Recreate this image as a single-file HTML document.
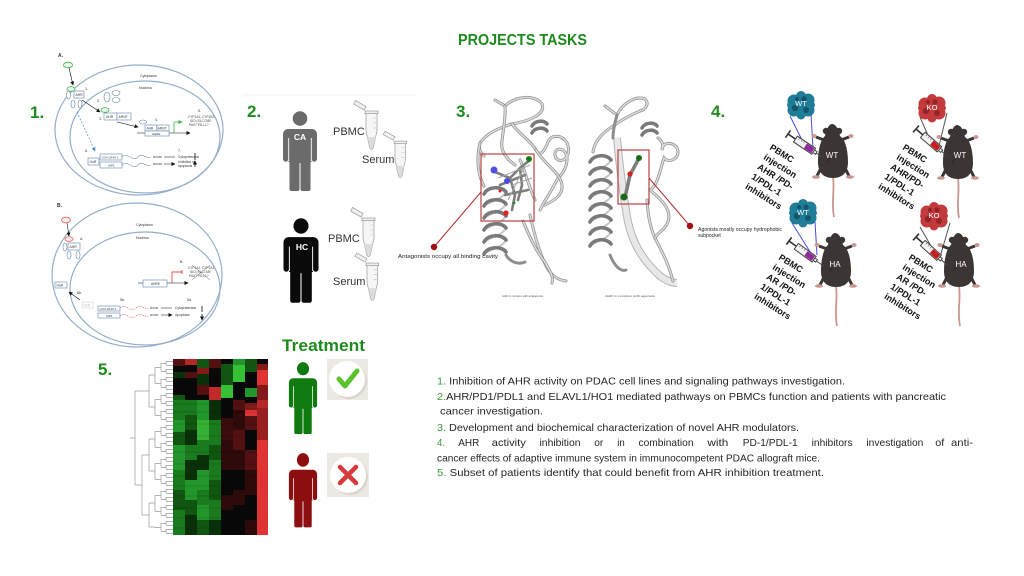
<!DOCTYPE html>
<html><head><meta charset="utf-8"><style>
html,body{margin:0;padding:0;background:#fff;}
svg{display:block;font-family:"Liberation Sans",sans-serif;}
.rb{fill:none;stroke:#8e8e8e;stroke-width:3;stroke-linecap:round}
.ri{fill:none;stroke:#dadada;stroke-width:1.6;stroke-linecap:round}
.hf{fill:none;stroke:#7a7a7a;stroke-width:3.6;stroke-linecap:round}
.hb{fill:none;stroke:#c8c8c8;stroke-width:2;stroke-linecap:round}
.bx{fill:#fff;stroke:#5f84ad;stroke-width:0.6}
.t{font-size:3.6px;fill:#333}
</style></head><body>
<svg width="1024" height="576" viewBox="0 0 1024 576" xmlns="http://www.w3.org/2000/svg">
<defs>
<marker id="ah" markerUnits="userSpaceOnUse" markerWidth="4" markerHeight="4" refX="3.5" refY="2" orient="auto"><path d="M0,0 L4,2 L0,4 Z" fill="#111"/></marker>
<marker id="ahg" markerUnits="userSpaceOnUse" markerWidth="4" markerHeight="4" refX="3.5" refY="2" orient="auto"><path d="M0,0 L4,2 L0,4 Z" fill="#3cb04c"/></marker>
<marker id="ahb" markerUnits="userSpaceOnUse" markerWidth="4" markerHeight="4" refX="3.5" refY="2" orient="auto"><path d="M0,0 L4,2 L0,4 Z" fill="#4a90d9"/></marker>
<g id="person">
<circle cx="0" cy="7.5" r="7.3"/>
<path d="M-12,18 H12 A5,5 0 0 1 17,23 V48 A2.7,2.7 0 0 1 11.6,48 V51 H10.5 V78 A2,2 0 0 1 8.5,80 H2.5 A2,2 0 0 1 0.5,78 V52 H-0.5 V78 A2,2 0 0 1 -2.5,80 H-8.5 A2,2 0 0 1 -10.5,78 V51 H-11.6 V48 A2.7,2.7 0 0 1 -17,48 V23 A5,5 0 0 1 -12,18 Z"/>
<path d="M-11.3,27 V50 M11.3,27 V50" stroke="#fff" stroke-width="0.9" fill="none"/>
</g>
<g id="tube">
<path d="M0,0 H11 V18 L7.2,35 Q5.5,38 3.8,35 L0,18 Z" fill="#f6f6f6" stroke="#a6a6a6" stroke-width="0.8"/>
<path d="M1.2,24 H9.8 L7,34 Q5.5,36.5 4,34 Z" fill="#dcdcdc"/>
<rect x="-1" y="-2" width="13" height="2.6" fill="#eee" stroke="#999" stroke-width="0.7"/>
<path d="M7,5 H10 M7,10 H10 M7,15 H10" stroke="#bbb" stroke-width="0.6"/>
<rect x="-14" y="-7" width="12" height="4" fill="#f0f0f0" stroke="#999" stroke-width="0.7" transform="rotate(30 -2 -3)"/>
</g>
<g id="mouse">
<path d="M1,53 C3,66 -1,78 2,93" stroke="#c99690" stroke-width="1.8" fill="none"/>
<path d="M-11,44 L-15,52 M13,44 L17,52" stroke="#3b3533" stroke-width="3"/>
<ellipse cx="-16" cy="53" rx="4" ry="1.8" fill="#c99690"/>
<ellipse cx="18" cy="53" rx="4" ry="1.8" fill="#c99690"/>
<path d="M-8,16 L-16,13 M9,16 L17,13" stroke="#3b3533" stroke-width="3"/>
<ellipse cx="-18" cy="12" rx="2.5" ry="2" fill="#c99690"/>
<ellipse cx="19" cy="12" rx="2.5" ry="2" fill="#c99690"/>
<circle cx="-6" cy="7" r="3.2" fill="#3b3533"/><circle cx="7" cy="7" r="3.2" fill="#3b3533"/>
<path d="M0,0 C4,0 7,6 8,12 C14,16 16,28 16,38 C16,48 11,54 1,54 C-9,54 -14,48 -14,38 C-14,28 -12,16 -7,12 C-6,6 -3,0 0,0 Z" fill="#3b3533"/>
<path d="M-2,40 C-6,38 -5,34 -1,35" stroke="#2a2523" stroke-width="0.6" fill="none"/>
</g>
<g id="tum">
<circle cx="0" cy="0" r="9"/><circle cx="-7" cy="-4" r="6.5"/><circle cx="7" cy="-5" r="6.5"/><circle cx="-7" cy="5" r="6.5"/><circle cx="7" cy="5" r="6.5"/><circle cx="0" cy="-9" r="5"/><circle cx="0" cy="10" r="4.5"/><circle cx="-11" cy="0" r="3"/><circle cx="11" cy="0" r="3"/>
</g>
<g id="spots"><circle cx="-6" cy="3" r="3.2"/><circle cx="5" cy="5" r="3"/><circle cx="3" cy="-6" r="2.6"/><circle cx="-4" cy="-6" r="2"/></g>
<g id="syr">
<path d="M0,-4.5 V4.5 M0,0 H9" stroke="#333" stroke-width="1.6" fill="none"/>
<rect x="9" y="-3.5" width="22" height="7" fill="#f2f2f2" stroke="#444" stroke-width="1"/>
<path d="M12,-3.5 v2.5 M15,-3.5 v2.5 M18,-3.5 v2.5" stroke="#666" stroke-width="0.6"/>
<path d="M31,-1.5 L34,-1.5 L34,1.5 L31,1.5 M34,0 L43,0" stroke="#444" stroke-width="1" fill="none"/>
</g>
</defs>

<!-- Title -->
<text x="458" y="45" font-size="15.5" font-weight="bold" fill="#1e8b1e" textLength="129" lengthAdjust="spacingAndGlyphs">PROJECTS TASKS</text>

<!-- Numbers -->
<g font-size="17" font-weight="bold" fill="#1e8b1e">
<text x="30" y="118">1.</text>
<text x="247" y="117">2.</text>
<text x="456" y="117">3.</text>
<text x="711" y="117">4.</text>
<text x="98" y="375">5.</text>
</g>

<!-- PANEL 1A -->
<g>
<ellipse cx="139" cy="130" rx="84" ry="65" fill="none" stroke="#94aecb" stroke-width="1.2"/>
<ellipse cx="145" cy="137" rx="75" ry="56" fill="none" stroke="#94aecb" stroke-width="1.2"/>
<text x="58" y="57" font-size="5" font-weight="bold" fill="#333">A.</text>
<text x="140" y="77" class="t">Cytoplasm</text>
<text x="139" y="89" class="t">Nucleus</text>
<ellipse cx="68" cy="65" rx="4.5" ry="2.8" fill="#eaf7ea" stroke="#3cb04c" stroke-width="0.8"/>
<path d="M69,68 L73,85" stroke="#111" stroke-width="0.6" marker-end="url(#ah)"/>
<ellipse cx="71" cy="89" rx="4" ry="2.4" fill="#eaf7ea" stroke="#3cb04c" stroke-width="0.8"/>
<rect x="74" y="91" width="10" height="7" class="bx"/><text x="75.5" y="96" font-size="3.4" fill="#333">AHR</text>
<ellipse cx="68.5" cy="95" rx="2" ry="4" class="bx"/>
<ellipse cx="73" cy="104" rx="2" ry="4" class="bx"/>
<ellipse cx="80" cy="104" rx="2" ry="4" class="bx"/>
<text x="85" y="90" class="t">1.</text>
<path d="M82,100 L100,112" stroke="#111" stroke-width="0.6" marker-end="url(#ah)"/>
<ellipse cx="107" cy="97" rx="3" ry="5" class="bx"/>
<ellipse cx="116" cy="93" rx="4" ry="2.5" class="bx"/>
<ellipse cx="116" cy="100" rx="4" ry="2.5" class="bx"/>
<text x="97" y="102" class="t">2.</text>
<ellipse cx="105" cy="110" rx="4" ry="2.4" fill="#eaf7ea" stroke="#3cb04c" stroke-width="0.8"/>
<rect x="104" y="113" width="13" height="7" class="bx"/><text x="106" y="118" font-size="3.4" fill="#333">AHR</text>
<rect x="117" y="113" width="14" height="7" class="bx"/><text x="118.5" y="118" font-size="3.4" fill="#333">ARNT</text>
<text x="99" y="120" class="t">3.</text>
<path d="M117,122 L138,127" stroke="#111" stroke-width="0.6" marker-end="url(#ah)"/>
<ellipse cx="143" cy="122" rx="3.5" ry="2" class="bx"/>
<text x="155" y="121" class="t">4.</text>
<path d="M137,133 L190,133" stroke="#111" stroke-width="0.6" marker-end="url(#ah)"/>
<rect x="145" y="125" width="12" height="6" class="bx"/><text x="146.5" y="129.5" font-size="3.2" fill="#333">AHR</text>
<rect x="157" y="125" width="12" height="6" class="bx"/><text x="157.8" y="129.5" font-size="3.2" fill="#333">ARNT</text>
<rect x="145" y="131" width="24" height="5" class="bx"/><text x="152" y="135" font-size="3" fill="#333">AHRE</text>
<path d="M174,133 V122 H182" stroke="#3cb04c" stroke-width="0.8" fill="none" marker-end="url(#ahg)"/>
<text x="198" y="112" class="t">5.</text>
<text x="188" y="118" font-size="3.2" fill="#444">CYP1A1, CYP1B1,</text>
<text x="190" y="122" font-size="3.2" fill="#444">IDO (SLC7A8?</text>
<text x="189" y="126" font-size="3.2" fill="#444">PAX7 PD-L1?</text>
<path d="M77,112 L95,151" stroke="#4a90d9" stroke-width="0.7" stroke-dasharray="2 1.5" marker-end="url(#ahb)"/>
<text x="85" y="152" class="t">6.</text>
<rect x="88" y="158" width="11" height="7" class="bx"/><text x="89.5" y="163" font-size="3.4" fill="#333">HuR</text>
<rect x="100" y="154" width="22" height="6" class="bx"/><text x="101.5" y="158.5" font-size="3" fill="#333">COX-2/HO-1</text>
<rect x="100" y="162" width="22" height="6" class="bx"/><text x="108" y="166.5" font-size="3" fill="#333">IAP1</text>
<path d="M122,157 C128,151 132,163 138,157 C143,152 147,160 151,157 M122,165 C128,159 132,171 138,165 C143,160 147,168 151,165" stroke="#7f98b5" stroke-width="0.6" fill="none"/>
<path d="M153,157 H162 M153,164 H162" stroke="#555" stroke-width="1.2" stroke-dasharray="0.8 0.4"/>
<path d="M164,157 H175 M164,164 H175" stroke="#111" stroke-width="0.6" marker-end="url(#ah)"/>
<text x="178" y="158" font-size="3.3" fill="#333">Cytoprotection</text>
<text x="178" y="163" font-size="3.3" fill="#333">Inhibition of</text>
<text x="178" y="167" font-size="3.3" fill="#333">apoptosis</text>
<text x="178" y="152" class="t">7.</text>
<path d="M195,160 V153 M195,167 V161" stroke="#111" stroke-width="0.8" marker-end="url(#ah)"/>
</g>

<!-- PANEL 1B -->
<g>
<ellipse cx="137" cy="275" rx="85" ry="72" fill="none" stroke="#94aecb" stroke-width="1.2"/>
<ellipse cx="145" cy="288.5" rx="75" ry="56.5" fill="none" stroke="#94aecb" stroke-width="1.2"/>
<text x="57" y="207" font-size="5" font-weight="bold" fill="#333">B.</text>
<text x="136" y="226" class="t">Cytoplasm</text>
<text x="136" y="239" class="t">Nucleus</text>
<ellipse cx="66" cy="220" rx="4.5" ry="2.8" fill="#fdeaea" stroke="#e06060" stroke-width="0.8"/>
<path d="M67,223 L69,236" stroke="#111" stroke-width="0.6" marker-end="url(#ah)"/>
<ellipse cx="69" cy="239" rx="4" ry="2.4" fill="#fdeaea" stroke="#e06060" stroke-width="0.8"/>
<rect x="68" y="243" width="12" height="7" class="bx"/><text x="69.5" y="248" font-size="3.4" fill="#333">AHR</text>
<ellipse cx="65" cy="247" rx="2" ry="4" class="bx"/>
<ellipse cx="69" cy="255" rx="2" ry="4" class="bx"/>
<ellipse cx="78" cy="255" rx="2" ry="4" class="bx"/>
<text x="80" y="240" class="t">A.</text>
<path d="M138,283 L188,283" stroke="#111" stroke-width="0.6" marker-end="url(#ah)"/>
<rect x="143" y="280" width="24" height="7" class="bx"/><text x="151" y="285" font-size="3.2" fill="#333">AHRE</text>
<path d="M172,283 V272 H182 M182,270 V274" stroke="#e05050" stroke-width="0.9" fill="none"/>
<text x="180" y="263" class="t">B.</text>
<text x="188" y="269" font-size="3.2" fill="#444">CYP1A1, CYP1B1,</text>
<text x="190" y="273" font-size="3.2" fill="#444">IDO (SLC7A8?</text>
<text x="189" y="277" font-size="3.2" fill="#444">PAX7 PD-L1?</text>
<path d="M192,265 L210,280 M210,265 L192,280" stroke="#666" stroke-width="0.5"/>
<rect x="55" y="282" width="12" height="6" class="bx"/><text x="56.5" y="286.5" font-size="3.4" fill="#333">HuR</text>
<path d="M80,300 L69,292" stroke="#111" stroke-width="0.6" marker-end="url(#ah)"/>
<text x="77" y="294" class="t">6b.</text>
<rect x="82" y="302" width="11" height="6" fill="#fff" stroke="#ccd6e2" stroke-width="0.6"/><text x="83.5" y="306.5" font-size="3.4" fill="#bbb">HuR</text>
<text x="120" y="301" class="t">5b.</text>
<text x="187" y="301" class="t">5d.</text>
<rect x="98" y="306" width="22" height="5" class="bx"/><text x="99.5" y="310" font-size="3" fill="#333">COX-2/HO-1</text>
<rect x="98" y="313" width="22" height="5" class="bx"/><text x="106" y="317" font-size="3" fill="#333">IAP1</text>
<path d="M120,308 C126,302 130,314 136,308 C141,303 145,311 148,308 M120,316 C126,310 130,322 136,316 C141,311 145,319 148,316" stroke="#e06060" stroke-width="0.6" stroke-dasharray="1.5 1" fill="none"/>
<path d="M150,308 H158 M150,315 H158" stroke="#555" stroke-width="1.2" stroke-dasharray="0.8 0.4"/>
<path d="M161,308 H172 M161,315 H172" stroke="#111" stroke-width="0.6" marker-end="url(#ah)"/>
<text x="175" y="309" font-size="3.3" fill="#333">Cytoprotection</text>
<text x="175" y="316" font-size="3.3" fill="#333">Apoptosis</text>
<path d="M202,306 V312 M202,314 V320" stroke="#111" stroke-width="0.8" marker-end="url(#ah)"/>
</g>

<!-- PANEL 2 -->
<path d="M242,95 H415" stroke="#f0f0f0" stroke-width="1"/>
<use href="#person" transform="translate(300,111)" fill="#6b6b6b"/>
<text x="300" y="140" font-size="8.5" font-weight="bold" fill="#fff" text-anchor="middle">CA</text>
<use href="#person" transform="translate(301,218) scale(1.03,1.06)" fill="#0a0a0a"/>
<text x="302" y="250" font-size="8.5" font-weight="bold" fill="#fff" text-anchor="middle">HC</text>
<g font-size="11" fill="#333">
<text x="333" y="135">PBMC</text>
<text x="362" y="163">Serum</text>
<text x="328" y="242">PBMC</text>
<text x="333" y="285">Serum</text>
</g>
<use href="#tube" transform="translate(366,113)"/>
<use href="#tube" transform="translate(395,143) scale(0.95)"/>
<use href="#tube" transform="translate(363,220)"/>
<use href="#tube" transform="translate(367,265) scale(0.97)"/>

<!-- PANEL 3 proteins -->
<g>
<path class="rb" d="M495,100 L505,106 C515,96 535,94 542,104 C546,114 530,121 512,124 C498,128 486,134 480,143 C478,149 481,153 484,156"/>
<path class="ri" d="M495,100 L505,106 C515,96 535,94 542,104 C546,114 530,121 512,124 C498,128 486,134 480,143 C478,149 481,153 484,156"/>
<path class="rb" d="M505,106 C506,118 503,130 502,141 C500,152 508,160 515,165"/>
<path class="ri" d="M505,106 C506,118 503,130 502,141 C500,152 508,160 515,165"/>
<path class="rb" d="M512,124 C520,135 530,140 536,150 C540,158 545,150 548,142 C552,132 566,136 568,146 C571,156 562,165 556,158 C552,150 560,146 565,152 C570,160 565,172 558,178 C552,190 545,200 540,210"/>
<path class="ri" d="M512,124 C520,135 530,140 536,150 C540,158 545,150 548,142 C552,132 566,136 568,146 C571,156 562,165 556,158 C552,150 560,146 565,152 C570,160 565,172 558,178 C552,190 545,200 540,210"/>
<path class="rb" d="M530,215 C534,232 538,250 547,268 C552,276 558,280 566,281"/>
<path class="ri" d="M530,215 C534,232 538,250 547,268 C552,276 558,280 566,281"/>
<path class="rb" d="M523,221 C530,238 538,254 545,262 C550,272 554,276 552,283"/>
<path class="ri" d="M523,221 C530,238 538,254 545,262 C550,272 554,276 552,283"/>
<path class="rb" d="M480,143 C476,160 478,175 484,186"/>
<path class="ri" d="M480,143 C476,160 478,175 484,186"/>
<path class="rb" d="M536,150 C545,165 560,172 562,185 C563,195 555,200 545,205 M520,160 C525,170 528,185 535,200"/>
<path class="ri" d="M536,150 C545,165 560,172 562,185 C563,195 555,200 545,205 M520,160 C525,170 528,185 535,200"/>
<path class="rb" d="M506,255 C510,262 518,265 525,262"/>
<path class="hb" d="M506,192 C502,200 488,202 484,206 M506,204 C502,212 488,214 484,218 M506,216 C502,224 488,226 484,230 M506,228 C502,236 488,238 484,242 M506,240 C502,248 488,250 484,254"/>
<path class="hf" d="M484,194 C488,186 502,186 506,192 M484,206 C488,198 502,198 506,204 M484,218 C488,210 502,210 506,216 M484,230 C488,222 502,222 506,228 M484,242 C488,234 502,234 506,240 M484,254 C488,246 502,246 506,252"/>
<path class="hf" d="M532,126 C535,120 545,120 547,124 M532,133 C535,127 545,127 547,131"/>
<path d="M617,138 C620,170 624,200 628,222 C632,240 640,258 660,276 C665,280 672,283 677,283" fill="none" stroke="#b5b5b5" stroke-width="8"/>
<path d="M617,138 C620,170 624,200 628,222 C632,240 640,258 660,276 C665,280 672,283 677,283" fill="none" stroke="#e8e8e8" stroke-width="6"/>
<path class="rb" d="M605,106 L617,115 C622,104 635,95 645,99 C650,104 645,110 640,111 C628,116 615,124 605,132 C598,138 594,144 593,152"/>
<path class="ri" d="M605,106 L617,115 C622,104 635,95 645,99 C650,104 645,110 640,111 C628,116 615,124 605,132 C598,138 594,144 593,152"/>
<path class="rb" d="M617,115 C615,122 613,130 613,138"/>
<path class="rb" d="M647,200 C648,215 650,228 656,240 C662,252 668,262 673,281"/>
<path class="ri" d="M647,200 C648,215 650,228 656,240 C662,252 668,262 673,281"/>
<path class="rb" d="M658,138 C662,140 664,146 662,150 C662,140 678,142 678,152 C678,160 668,163 664,158 C660,170 658,185 650,190 C662,200 672,210 668,222 C665,230 658,232 655,238"/>
<path class="ri" d="M658,138 C662,140 664,146 662,150 C662,140 678,142 678,152 C678,160 668,163 664,158 C660,170 658,185 650,190 C662,200 672,210 668,222 C665,230 658,232 655,238"/>
<path class="rb" d="M610,255 C614,265 620,272 626,270"/>
<path class="hb" d="M611,160 C607,168 593,170 590,174 M611,172 C607,180 593,182 590,186 M611,184 C607,192 593,194 590,198 M611,196 C607,204 593,206 590,210 M611,208 C607,216 593,218 590,222 M611,220 C607,228 593,230 590,234 M611,232 C607,240 593,242 590,246"/>
<path class="hf" d="M590,162 C594,154 607,154 611,160 M590,174 C594,166 607,166 611,172 M590,186 C594,178 607,178 611,184 M590,198 C594,190 607,190 611,196 M590,210 C594,202 607,202 611,208 M590,222 C594,214 607,214 611,220 M590,234 C594,226 607,226 611,232 M590,246 C594,238 607,238 611,244"/>
<path class="hf" d="M642,128 C645,122 655,122 657,126 M642,135 C645,129 655,129 657,133"/>
<path d="M495,172 L510,178 L520,168 L530,160 M510,178 L515,195 L512,210 M520,168 L522,185 L518,200 M500,185 L525,175 M505,195 L528,190" stroke="#7e7e7e" stroke-width="2.6" fill="none" stroke-linecap="round"/>
<path d="M498,178 L530,165 M508,200 L524,168 M512,185 L532,178" stroke="#a5a5a5" stroke-width="1" fill="none"/>
<circle cx="494" cy="170" r="3.5" fill="#5050e0"/>
<circle cx="507" cy="181" r="3" fill="#4a4adc"/>
<circle cx="529" cy="159" r="3" fill="#1a7a1a"/>
<circle cx="506" cy="213" r="2.6" fill="#e02020"/>
<circle cx="500" cy="191" r="1.5" fill="#e02020"/>
<circle cx="514" cy="203" r="1.4" fill="#2a8a2a"/>
<path d="M638,160 L630,175 L626,193" stroke="#7e7e7e" stroke-width="3.6" fill="none" stroke-linecap="round"/>
<circle cx="639" cy="158" r="3" fill="#1a6a1a"/>
<circle cx="624" cy="197" r="3.5" fill="#1a6a1a"/>
<circle cx="630" cy="174" r="2.6" fill="#d02020"/>
<rect x="481" y="154" width="53" height="67" fill="none" stroke="#b84040" stroke-width="1.2"/>
<rect x="618" y="150" width="31" height="54" fill="none" stroke="#b84040" stroke-width="1.2"/>
<path d="M481,192 L434,247 M649,178 L690,226" stroke="#b03030" stroke-width="1"/>
<circle cx="434" cy="247" r="3.2" fill="#a01010"/>
<circle cx="690" cy="226" r="3.2" fill="#a01010"/>
<text x="398" y="258" font-size="5" fill="#222" textLength="100" lengthAdjust="spacingAndGlyphs">Antagonists occupy all binding cavity</text>
<text x="698" y="231" font-size="5" fill="#222" textLength="84" lengthAdjust="spacingAndGlyphs">Agonists mostly occupy hydrophobic</text>
<text x="698" y="237" font-size="5" fill="#222">subpocket</text>
<text x="502" y="297" font-size="3" fill="#555" textLength="41" lengthAdjust="spacingAndGlyphs">AHR in complex with antagonists</text>
<text x="605" y="297" font-size="3" fill="#555" textLength="50" lengthAdjust="spacingAndGlyphs">AHR in complex  with agonists</text>
</g>

<!-- PANEL 4 -->
<g>
<path d="M790,116 L806,148 M811,114 L813,148" stroke="#4a4ae6" stroke-width="1"/>
<path d="M920,117 L933,147 M947,113 L938,150" stroke="#555" stroke-width="1"/>
<path d="M792,223 L812,255 M815,222 L817,255" stroke="#4a4ae6" stroke-width="1"/>
<path d="M920,227 L935,253 M950,223 L940,257" stroke="#555" stroke-width="1"/>
<use href="#mouse" transform="translate(832,124)"/>
<use href="#mouse" transform="translate(957,125)"/>
<use href="#mouse" transform="translate(835,233)"/>
<use href="#mouse" transform="translate(958,233)"/>
<g font-size="8" fill="#fff" text-anchor="middle">
<text x="832" y="158">WT</text>
<text x="960" y="158">WT</text>
<text x="835" y="267">HA</text>
<text x="961" y="267">HA</text>
</g>
<use href="#tum" transform="translate(801,105)" fill="#1f7d98"/>
<use href="#spots" transform="translate(801,105)" fill="#13566c"/>
<use href="#tum" transform="translate(932,108)" fill="#c23a3c"/>
<use href="#spots" transform="translate(932,108)" fill="#962326"/>
<use href="#tum" transform="translate(803,213)" fill="#1f7d98"/>
<use href="#spots" transform="translate(803,213)" fill="#13566c"/>
<use href="#tum" transform="translate(934,216)" fill="#c23a3c"/>
<use href="#spots" transform="translate(934,216)" fill="#962326"/>
<g font-size="7.5" fill="#fff" text-anchor="middle">
<text x="801" y="106">WT</text>
<text x="932" y="110">KO</text>
<text x="803" y="215">WT</text>
<text x="934" y="218">KO</text>
</g>
<g transform="translate(788,134) rotate(34)"><use href="#syr"/><rect x="21" y="-2.8" width="9" height="5.6" fill="#8e2a9c"/></g>
<g transform="translate(916,129) rotate(41)"><use href="#syr"/><rect x="21" y="-2.8" width="9" height="5.6" fill="#c41e1e"/></g>
<g transform="translate(789,241) rotate(36)"><use href="#syr"/><rect x="21" y="-2.8" width="9" height="5.6" fill="#8e2a9c"/></g>
<g transform="translate(916,237) rotate(42)"><use href="#syr"/><rect x="21" y="-2.8" width="9" height="5.6" fill="#c41e1e"/></g>
<g font-size="9" font-weight="bold" fill="#111">
<text transform="translate(769,149) rotate(32)"><tspan x="0" y="0">PBMC</tspan><tspan x="0" y="11.5">injection</tspan><tspan x="0" y="23">AHR /PD-</tspan><tspan x="0" y="34.5">1/PDL-1</tspan><tspan x="0" y="46">inhibitors</tspan></text>
<text transform="translate(902,149) rotate(32)"><tspan x="0" y="0">PBMC</tspan><tspan x="0" y="11.5">injection</tspan><tspan x="0" y="23">AHR/PD-</tspan><tspan x="0" y="34.5">1/PDL-1</tspan><tspan x="0" y="46">inhibitors</tspan></text>
<text transform="translate(778,259) rotate(32)"><tspan x="0" y="0">PBMC</tspan><tspan x="0" y="11.5">injection</tspan><tspan x="0" y="23">AR /PD-</tspan><tspan x="0" y="34.5">1/PDL-1</tspan><tspan x="0" y="46">inhibitors</tspan></text>
<text transform="translate(908,259) rotate(32)"><tspan x="0" y="0">PBMC</tspan><tspan x="0" y="11.5">injection</tspan><tspan x="0" y="23">AR /PD-</tspan><tspan x="0" y="34.5">1/PDL-1</tspan><tspan x="0" y="46">inhibitors</tspan></text>
</g>
</g>

<!-- PANEL 5: dendrogram -->
<g stroke="#9a9a9a" fill="none">
<line x1="169.5" y1="361" x2="169.5" y2="534" stroke-width="7" stroke-dasharray="0.7 3.3"/>
<line x1="166" y1="361" x2="166" y2="533" stroke-width="0.7" stroke-dasharray="4 4"/>
<line x1="163.5" y1="363" x2="163.5" y2="532" stroke-width="5" stroke-dasharray="0.7 7.3"/>
<line x1="161" y1="363" x2="161" y2="531" stroke-width="0.7" stroke-dasharray="8 8"/>
<line x1="158" y1="367" x2="158" y2="528" stroke-width="6" stroke-dasharray="0.7 15.3"/>
<line x1="155" y1="367" x2="155" y2="528" stroke-width="0.7" stroke-dasharray="16 16"/>
<path d="M149,375 H155 M149,407 H155 M149,439 H155 M149,471 H155 M149,503 H155 M149,527 H155 M149,375 V407 M149,439 V471 M149,503 V527 M142,455 H149 M142,515 H149 M142,455 V515 M135,391 H149 M135,485 H142 M135,391 V485 M130,438 H135" stroke-width="0.7"/>
</g>

<!-- heatmap -->
<g>
<rect x="173" y="359" width="95" height="176" fill="#080808"/>
<rect x="173" y="359" width="12" height="7" fill="#521010"/>
<rect x="173" y="372" width="12" height="6" fill="#0a300a"/>
<rect x="173" y="395" width="12" height="5" fill="#105510"/>
<rect x="173" y="400" width="12" height="20" fill="#1a7a1e"/>
<rect x="173" y="420" width="12" height="12" fill="#22962a"/>
<rect x="173" y="432" width="12" height="13" fill="#105510"/>
<rect x="173" y="445" width="12" height="25" fill="#22962a"/>
<rect x="173" y="470" width="12" height="20" fill="#1a7a1e"/>
<rect x="173" y="490" width="12" height="20" fill="#105510"/>
<rect x="173" y="510" width="12" height="25" fill="#1a7a1e"/>
<rect x="185" y="359" width="12" height="6" fill="#b52828"/>
<rect x="185" y="372" width="12" height="6" fill="#521010"/>
<rect x="185" y="400" width="12" height="15" fill="#1a7a1e"/>
<rect x="185" y="415" width="12" height="15" fill="#105510"/>
<rect x="185" y="430" width="12" height="15" fill="#0a300a"/>
<rect x="185" y="445" width="12" height="15" fill="#1a7a1e"/>
<rect x="185" y="460" width="12" height="20" fill="#0a300a"/>
<rect x="185" y="480" width="12" height="20" fill="#22962a"/>
<rect x="185" y="500" width="12" height="15" fill="#105510"/>
<rect x="185" y="515" width="12" height="20" fill="#0a300a"/>
<rect x="197" y="359" width="12" height="9" fill="#105510"/>
<rect x="197" y="368" width="12" height="6" fill="#821a1a"/>
<rect x="197" y="374" width="12" height="11" fill="#0a300a"/>
<rect x="197" y="385" width="12" height="10" fill="#521010"/>
<rect x="197" y="400" width="12" height="20" fill="#22962a"/>
<rect x="197" y="420" width="12" height="20" fill="#35b035"/>
<rect x="197" y="440" width="12" height="15" fill="#1a7a1e"/>
<rect x="197" y="455" width="12" height="15" fill="#0a300a"/>
<rect x="197" y="470" width="12" height="20" fill="#22962a"/>
<rect x="197" y="490" width="12" height="15" fill="#1a7a1e"/>
<rect x="197" y="505" width="12" height="15" fill="#22962a"/>
<rect x="197" y="520" width="12" height="15" fill="#105510"/>
<rect x="209" y="359" width="12" height="9" fill="#521010"/>
<rect x="209" y="387" width="12" height="13" fill="#c02a2a"/>
<rect x="209" y="400" width="12" height="20" fill="#0a300a"/>
<rect x="209" y="420" width="12" height="25" fill="#1a7a1e"/>
<rect x="209" y="445" width="12" height="15" fill="#105510"/>
<rect x="209" y="460" width="12" height="20" fill="#1a7a1e"/>
<rect x="209" y="480" width="12" height="20" fill="#105510"/>
<rect x="209" y="500" width="12" height="20" fill="#1a7a1e"/>
<rect x="209" y="520" width="12" height="15" fill="#0a300a"/>
<rect x="221" y="364" width="12" height="21" fill="#105510"/>
<rect x="221" y="385" width="12" height="13" fill="#35c035"/>
<rect x="221" y="418" width="12" height="22" fill="#3a0c0c"/>
<rect x="221" y="440" width="12" height="30" fill="#2e0a0a"/>
<rect x="221" y="495" width="12" height="15" fill="#2e0a0a"/>
<rect x="233" y="359" width="12" height="6" fill="#22962a"/>
<rect x="233" y="365" width="12" height="17" fill="#35c035"/>
<rect x="233" y="400" width="12" height="10" fill="#521010"/>
<rect x="233" y="410" width="12" height="20" fill="#2e0a0a"/>
<rect x="233" y="430" width="12" height="20" fill="#521010"/>
<rect x="233" y="450" width="12" height="20" fill="#2e0a0a"/>
<rect x="233" y="490" width="12" height="15" fill="#2e0a0a"/>
<rect x="245" y="359" width="12" height="13" fill="#105510"/>
<rect x="245" y="388" width="12" height="9" fill="#22962a"/>
<rect x="245" y="403" width="12" height="7" fill="#821a1a"/>
<rect x="245" y="410" width="12" height="6" fill="#de3434"/>
<rect x="245" y="416" width="12" height="14" fill="#521010"/>
<rect x="245" y="450" width="12" height="20" fill="#521010"/>
<rect x="245" y="470" width="12" height="25" fill="#2e0a0a"/>
<rect x="245" y="520" width="12" height="15" fill="#2e0a0a"/>
<rect x="257" y="364" width="11" height="6" fill="#821a1a"/>
<rect x="257" y="370" width="11" height="15" fill="#de3434"/>
<rect x="257" y="385" width="11" height="15" fill="#821a1a"/>
<rect x="257" y="400" width="11" height="8" fill="#b52828"/>
<rect x="257" y="408" width="11" height="32" fill="#9a2020"/>
<rect x="257" y="440" width="11" height="95" fill="#de3434"/>
<g stroke="#000" stroke-opacity="0.25" stroke-width="0.6">
<path d="M173,404 H257 M173,412 H257 M173,424 H257 M173,436 H257 M173,452 H257 M173,464 H257 M173,476 H257 M173,486 H257 M173,496 H257 M173,508 H257 M173,518 H257 M173,528 H257"/>
</g>
</g>

<!-- Treatment -->
<text x="282" y="351" font-size="17" font-weight="bold" fill="#1e8b1e" textLength="83" lengthAdjust="spacingAndGlyphs">Treatment</text>
<use href="#person" transform="translate(303,362) scale(0.83,0.9)" fill="#0f7a0f"/>
<use href="#person" transform="translate(303,453) scale(0.83,0.93)" fill="#8c0e0e"/>
<rect x="327" y="359" width="41" height="41" fill="#ece9e3"/>
<circle cx="349" cy="381" r="18" fill="#d9d5cf"/>
<circle cx="347" cy="379" r="18" fill="#fff"/>
<path d="M339,379 L345,386 L357,371" stroke="#5cc22e" stroke-width="5" fill="none" stroke-linecap="round" stroke-linejoin="round"/>
<rect x="327" y="453" width="42" height="44" fill="#ece9e3"/>
<circle cx="350" cy="477" r="18" fill="#d9d5cf"/>
<circle cx="348" cy="475" r="18" fill="#fff"/>
<path d="M340,467 L356,483 M356,467 L340,483" stroke="#d63a3a" stroke-width="4.5" stroke-linecap="round"/>

<!-- Text list -->
<g font-size="10.5" fill="#262626">
<text x="437" y="384.3" textLength="408" lengthAdjust="spacingAndGlyphs"><tspan fill="#3a9a3a">1.</tspan> Inhibition of AHR activity on PDAC cell lines and signaling pathways investigation.</text>
<text x="437" y="400" textLength="509" lengthAdjust="spacingAndGlyphs"><tspan fill="#3a9a3a">2.</tspan>AHR/PD1/PDL1 and ELAVL1/HO1 mediated pathways on PBMCs function and patients with pancreatic</text>
<text x="440" y="414.3" textLength="103" lengthAdjust="spacingAndGlyphs">cancer investigation.</text>
<text x="437" y="431" textLength="362" lengthAdjust="spacingAndGlyphs"><tspan fill="#3a9a3a">3.</tspan> Development and biochemical characterization of novel AHR modulators.</text>
<text x="437" y="446" fill="#3a9a3a" textLength="8" lengthAdjust="spacingAndGlyphs">4.</text>
<text x="458.3" y="446" textLength="21" lengthAdjust="spacingAndGlyphs">AHR</text>
<text x="491.8" y="446" textLength="34" lengthAdjust="spacingAndGlyphs">activity</text>
<text x="539.5" y="446" textLength="41" lengthAdjust="spacingAndGlyphs">inhibition</text>
<text x="594.3" y="446" textLength="9" lengthAdjust="spacingAndGlyphs">or</text>
<text x="617.3" y="446" textLength="7.5" lengthAdjust="spacingAndGlyphs">in</text>
<text x="638.5" y="446" textLength="55" lengthAdjust="spacingAndGlyphs">combination</text>
<text x="707.4" y="446" textLength="21" lengthAdjust="spacingAndGlyphs">with</text>
<text x="742.7" y="446" textLength="55" lengthAdjust="spacingAndGlyphs">PD-1/PDL-1</text>
<text x="811.6" y="446" textLength="41" lengthAdjust="spacingAndGlyphs">inhibitors</text>
<text x="866.4" y="446" textLength="57" lengthAdjust="spacingAndGlyphs">investigation</text>
<text x="935.3" y="446" textLength="9" lengthAdjust="spacingAndGlyphs">of</text>
<text x="951" y="446" textLength="22" lengthAdjust="spacingAndGlyphs">anti-</text>
<text x="437" y="461.5" textLength="383" lengthAdjust="spacingAndGlyphs">cancer effects of adaptive immune  system in immunocompetent  PDAC allograft mice.</text>
<text x="437" y="476" textLength="387" lengthAdjust="spacingAndGlyphs"><tspan fill="#3a9a3a">5.</tspan> Subset of patients identify that could benefit from AHR inhibition treatment.</text>
</g>
</svg>
</body></html>
